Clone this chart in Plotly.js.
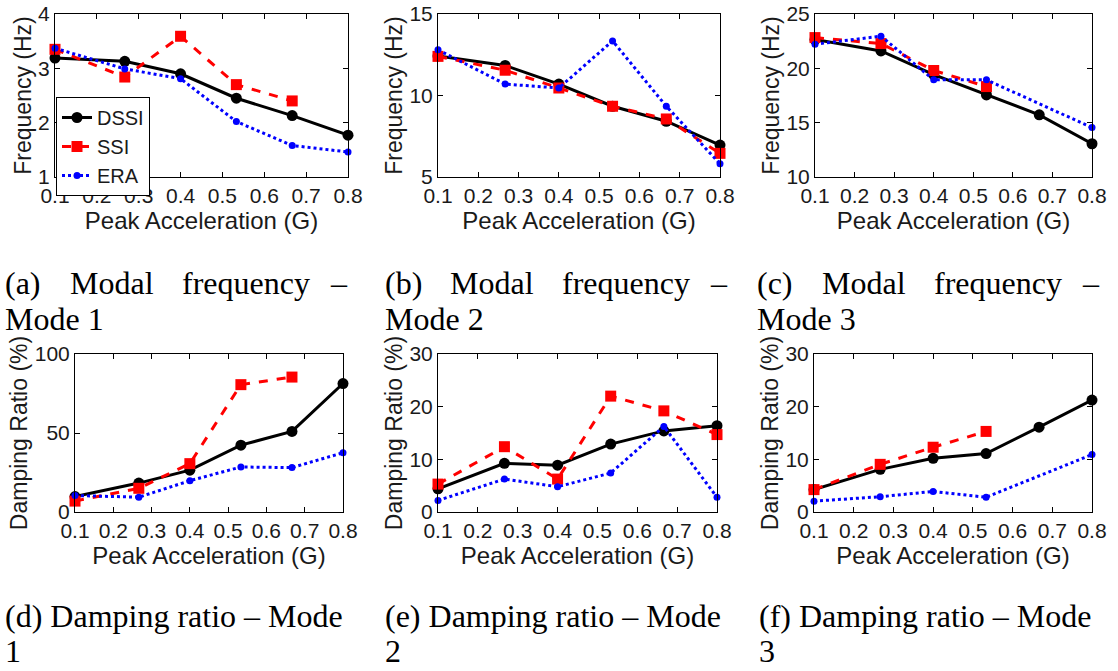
<!DOCTYPE html>
<html>
<head>
<meta charset="utf-8">
<script src="https://cdn.plot.ly/plotly-3.0.1.min.js"></script>
<style>
html, body { margin: 0; padding: 0; background: #fff; }
#chart { width: 1118px; height: 671px; }
</style>
</head>
<body>
<div id="chart"></div>
<script>
// Peak acceleration levels (G)
const peakAccel = [0.1, 0.2667, 0.4, 0.5333, 0.6667, 0.8];
const xTickVals = [0.1, 0.2, 0.3, 0.4, 0.5, 0.6, 0.7, 0.8];
const xTickText = ['0.1', '0.2', '0.3', '0.4', '0.5', '0.6', '0.7', '0.8'];
const seriesNames = ['DSSI', 'SSI', 'ERA'];

// (a) Modal frequency - Mode 1 (Hz)
const freqMode1DSSI = [3.19, 3.13, 2.90, 2.45, 2.13, 1.77];
const freqMode1SSI  = [3.35, 2.84, 3.59, 2.70, 2.40, null];
const freqMode1ERA  = [3.37, 2.99, 2.81, 2.02, 1.58, 1.46];
// (b) Modal frequency - Mode 2 (Hz)
const freqMode2DSSI = [12.43, 11.84, 10.70, 9.34, 8.42, 6.96];
const freqMode2SSI  = [12.40, 11.55, 10.46, 9.34, 8.56, 6.45];
const freqMode2ERA  = [12.80, 10.70, 10.46, 13.35, 9.34, 5.81];
// (c) Modal frequency - Mode 3 (Hz)
const freqMode3DSSI = [22.65, 21.60, 19.43, 17.55, 15.72, 13.06];
const freqMode3SSI  = [22.83, 22.28, 19.80, 18.32, null, null];
const freqMode3ERA  = [22.22, 22.96, 18.94, 18.94, null, 14.55];
// (d) Damping ratio - Mode 1 (%)
const dampMode1DSSI = [9.8, 18.3, 26.5, 42.3, 51.0, 81.3];
const dampMode1SSI  = [6.9, 15.0, 30.6, 80.6, 85.4, null];
const dampMode1ERA  = [10.4, 9.4, 19.8, 28.5, 28.1, 37.5];
// (e) Damping ratio - Mode 2 (%)
const dampMode2DSSI = [4.4, 9.25, 8.9, 12.9, 15.4, 16.4];
const dampMode2SSI  = [5.3, 12.4, 6.25, 22.0, 19.2, 14.7];
const dampMode2ERA  = [2.2, 6.25, 4.8, 7.4, 16.25, 2.8];
// (f) Damping ratio - Mode 3 (%)
const dampMode3DSSI = [4.25, 8.1, 10.2, 11.1, 16.1, 21.25];
const dampMode3SSI  = [4.25, 9.05, 12.3, 15.3, null, null];
const dampMode3ERA  = [2.06, 2.9, 3.9, 2.8, null, 10.9];

// Axis settings
const yTitles = ['Frequency (Hz)', 'Frequency (Hz)', 'Frequency (Hz)',
                 'Damping Ratio (%)', 'Damping Ratio (%)', 'Damping Ratio (%)'];
const yRanges = [[1, 4], [5, 15], [10, 25], [0, 100], [0, 30], [0, 30]];
const yTickVals = [[1, 2, 3, 4], [5, 10, 15], [10, 15, 20, 25], [0, 50, 100], [0, 10, 20, 30], [0, 10, 20, 30]];
const xTitle = 'Peak Acceleration (G)';

// Captions
const captionsTop = [
  ['(a)', 'Modal', 'frequency', '–', 'Mode 1'],
  ['(b)', 'Modal', 'frequency', '–', 'Mode 2'],
  ['(c)', 'Modal', 'frequency', '–', 'Mode 3']
];
const captionsBottom = [
  ['(d) Damping ratio – Mode', '1'],
  ['(e) Damping ratio – Mode', '2'],
  ['(f) Damping ratio – Mode', '3']
];

const panels = [
  [freqMode1DSSI, freqMode1SSI, freqMode1ERA],
  [freqMode2DSSI, freqMode2SSI, freqMode2ERA],
  [freqMode3DSSI, freqMode3SSI, freqMode3ERA],
  [dampMode1DSSI, dampMode1SSI, dampMode1ERA],
  [dampMode2DSSI, dampMode2SSI, dampMode2ERA],
  [dampMode3DSSI, dampMode3SSI, dampMode3ERA]
];

// Layout geometry (pixels)
const W = 1118, H = 671;
const boxes = [
  [55, 348, 14, 177], [438, 720, 14, 177], [815, 1092, 14, 177],
  [75, 343, 354, 512], [438, 717, 354, 512], [814, 1092, 354, 512]
];
const styles = [
  {color: '#000000', dash: 'solid', symbol: 'circle', msize: 11, width: 3},
  {color: '#ff0000', dash: 'dash', symbol: 'square', msize: 11, width: 3},
  {color: '#0000ff', dash: 'dot', symbol: 'circle', msize: 7, width: 3}
];

const sansFamily = 'Liberation Sans, Arial, sans-serif';
const traces = [];
const layout = {
  width: W, height: H,
  margin: {l: 0, r: 0, t: 0, b: 0},
  paper_bgcolor: '#ffffff',
  plot_bgcolor: '#ffffff',
  font: {family: sansFamily, color: '#1a1a1a', size: 21},
  showlegend: true,
  legend: {
    x: 56 / W, y: 1 - 97 / H, xanchor: 'left', yanchor: 'top',
    bgcolor: '#ffffff', bordercolor: '#000000', borderwidth: 1,
    font: {size: 20, family: sansFamily, color: '#1a1a1a'},
    tracegroupgap: 0, itemwidth: 30
  },
  annotations: []
};

panels.forEach((series, i) => {
  const n = i + 1;
  const suffix = n === 1 ? '' : String(n);
  const b = boxes[i];
  series.forEach((vals, s) => {
    const st = styles[s];
    traces.push({
      type: 'scatter', mode: 'lines+markers',
      x: peakAccel, y: vals, name: seriesNames[s],
      xaxis: 'x' + suffix, yaxis: 'y' + suffix,
      connectgaps: true, cliponaxis: false,
      showlegend: i === 0,
      line: {color: st.color, dash: st.dash, width: st.width},
      marker: {color: st.color, symbol: st.symbol, size: st.msize}
    });
  });
  const common = {
    showline: true, linecolor: '#000000', linewidth: 1, mirror: 'ticks',
    ticks: 'inside', ticklen: 5, tickcolor: '#000000', tickwidth: 1,
    showgrid: false, zeroline: false, fixedrange: true,
    tickfont: {size: 21, family: sansFamily, color: '#1a1a1a'}
  };
  layout['xaxis' + suffix] = Object.assign({}, common, {
    domain: [b[0] / W, b[1] / W], range: [0.1, 0.8],
    tickvals: xTickVals, ticktext: xTickText,
    anchor: 'y' + suffix,
    title: {text: xTitle, standoff: 0, font: {size: 24, family: sansFamily, color: '#1a1a1a'}}
  });
  layout['yaxis' + suffix] = Object.assign({}, common, {
    domain: [1 - b[3] / H, 1 - b[2] / H], range: yRanges[i],
    tickvals: yTickVals[i],
    anchor: 'x' + suffix,
    title: {text: yTitles[i], standoff: 0, font: {size: 23, family: sansFamily, color: '#1a1a1a'}}
  });
});

// Captions (row 1 is justified: words positioned individually)
const capFont = {family: 'Liberation Serif, Times New Roman, serif', size: 32, color: '#000000'};
const colStart = [0, 380, 752];
const wordOffsets = [3, 68, 180, 328];
captionsTop.forEach((c, k) => {
  for (let w = 0; w < 4; w++) {
    layout.annotations.push({
      xref: 'paper', yref: 'paper', x: (colStart[k] + wordOffsets[w]) / W, y: 1 - 283 / H,
      xanchor: 'left', yanchor: 'middle', text: c[w], showarrow: false, font: capFont
    });
  }
  layout.annotations.push({
    xref: 'paper', yref: 'paper', x: (colStart[k] + 3) / W, y: 1 - 319 / H,
    xanchor: 'left', yanchor: 'middle', text: c[4], showarrow: false, font: capFont
  });
});
const colStart2 = [3, 383, 757];
captionsBottom.forEach((c, k) => {
  layout.annotations.push({
    xref: 'paper', yref: 'paper', x: colStart2[k] / W, y: 1 - 616 / H,
    xanchor: 'left', yanchor: 'middle', text: c[0], showarrow: false, font: capFont
  });
  layout.annotations.push({
    xref: 'paper', yref: 'paper', x: colStart2[k] / W, y: 1 - 651 / H,
    xanchor: 'left', yanchor: 'middle', text: c[1], showarrow: false, font: capFont
  });
});

Plotly.newPlot('chart', traces, layout, {staticPlot: true, displayModeBar: false});
</script>
</body>
</html>
